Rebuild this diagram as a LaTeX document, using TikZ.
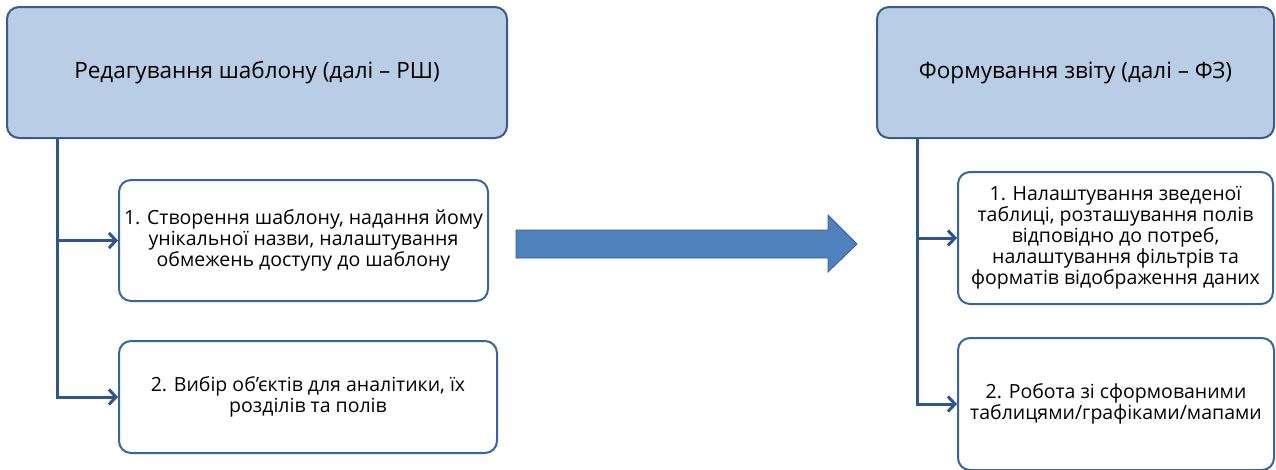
\documentclass[tikz,border=0pt]{standalone}
\usepackage{fontspec}
\setmainfont{Open Sans}
\usetikzlibrary{arrows.meta}

\definecolor{hdrfill}{HTML}{B9CDE5}
\definecolor{hdrline}{HTML}{385D8A}
\definecolor{boxline}{HTML}{3A64A0}
\definecolor{connline}{HTML}{2F5494}
\definecolor{bigfill}{HTML}{4F81BD}

\tikzset{
	header/.style={draw=hdrline, fill=hdrfill, line width=2pt, rounded corners=12pt,
		inner sep=0pt, font=\fontsize{22.5}{26}\selectfont},
	item/.style={draw=boxline, fill=white, line width=2pt, rounded corners=12pt,
		inner sep=0pt, align=center, font=\fontsize{19.5}{21}\selectfont},
	conn/.style={draw=connline, line width=3pt, -{Straight Barb[length=7pt,width=15pt]}},
}

\begin{document}
\begin{tikzpicture}[x=1pt,y=-1pt]

	\useasboundingbox (0,0) rectangle (1276,469);

	% left column
	\node[header, minimum width=500pt, minimum height=131pt] (hdrRS) at (257,72.5)
		{Редагування шаблону (далі – РШ)};
	\node[item, minimum width=369pt, minimum height=121pt] (rsOne) at (303.5,240.5)
		{1. Створення шаблону, надання йому\\унікальної назви, налаштування\\обмежень доступу до шаблону};
	\node[item, minimum width=378pt, minimum height=112pt] (rsTwo) at (308,397)
		{2. Вибір об’єктів для аналітики, їх\\розділів та полів};

	\draw[conn] ([xshift=51pt]hdrRS.south west) |- (rsOne.west);
	\draw[conn] ([xshift=51pt]hdrRS.south west) |- (rsTwo.west);

	% right column
	\node[header, minimum width=397pt, minimum height=131pt] (hdrFZ) at (1075.5,72.5)
		{Формування звіту (далі – ФЗ)};
	\node[item, minimum width=315pt, minimum height=132pt] (fzOne) at (1115.5,238)
		{1. Налаштування зведеної\\таблиці, розташування полів\\відповідно до потреб,\\налаштування фільтрів та\\форматів відображення даних};
	\node[item, minimum width=316pt, minimum height=132pt] (fzTwo) at (1116,404)
		{2. Робота зі сформованими\\таблицями/графіками/мапами};

	\draw[conn] ([xshift=41pt]hdrFZ.south west) |- (fzOne.west);
	\draw[conn] ([xshift=41pt]hdrFZ.south west) |- (fzTwo.west);

	% block arrow between the stages
	\draw[draw=hdrline, fill=bigfill, line width=0.8pt]
		(516,230) -- (828,230) -- (828,215) -- (857,244) -- (828,272) -- (828,258) -- (516,258) -- cycle;

\end{tikzpicture}
\end{document}
